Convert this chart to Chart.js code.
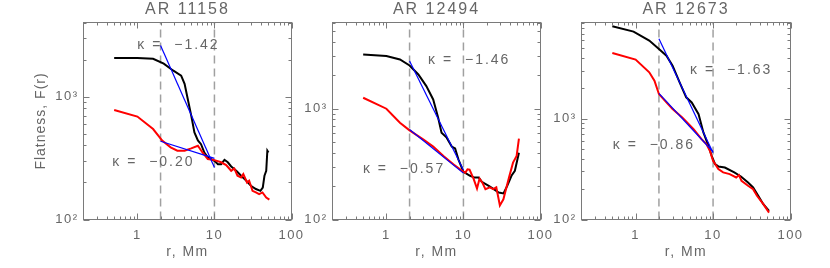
<!DOCTYPE html>
<html>
<head>
<meta charset="utf-8">
<script src="https://cdn.jsdelivr.net/npm/chart.js@4.4.0/dist/chart.umd.min.js"></script>
<style>
  html, body { margin: 0; padding: 0; background: #fff; }
  #wrap { position: relative; width: 830px; height: 268px; overflow: hidden; }
  canvas { position: absolute; top: 0; left: 0; }
</style>
</head>
<body>
<div id="wrap">
  <canvas id="c1" width="830" height="268"></canvas>
  <canvas id="c2" width="830" height="268"></canvas>
  <canvas id="c3" width="830" height="268"></canvas>
</div>
<script>
// ---- data ----
const fitR = [2, 10];
const dashR = [2, 10];

// AR 11158
const r1Black = [0.5, 1.0, 1.6, 2.2, 2.9, 3.7, 4.1, 4.5, 5.0, 5.5, 6.1, 6.7, 7.4, 8.2, 10, 11.1, 12.2, 13.5, 14.9, 16.5, 19.2, 22.2, 25.8, 29.7, 34.5, 39.5, 42.4, 44.6, 47, 48.6, 50.3];
const f1Black = [2060, 2060, 2030, 1850, 1630, 1480, 1270, 960, 700, 510, 440, 410, 350, 320, 300, 282, 282, 306, 292, 270, 249, 227, 207, 188, 177, 171, 182, 227, 249, 363, 351];
const r1Red = [0.5, 1.0, 1.6, 2.1, 2.7, 3.3, 4.1, 5.0, 6.1, 7.0, 8.2, 10, 12.2, 14.2, 16.5, 18.1, 19.9, 22.2, 23.7, 26.5, 28.2, 31.2, 34.5, 38, 42, 47, 51.6];
const f1Red = [778, 687, 544, 438, 386, 363, 363, 379, 398, 351, 310, 304, 292, 277, 249, 260, 227, 220, 234, 200, 207, 171, 166, 161, 166, 151, 145];
const fit1Steep = [2600, 265];
const fit1Flat = [433, 314];

// AR 12494
const r2Black = [0.5, 1.0, 1.5, 2.0, 2.6, 3.3, 4.05, 4.7, 5.2, 6.06, 7.05, 7.8, 8.6, 10, 12.2, 13.9, 15.8, 17.3, 21.3, 24.2, 28.7, 33.1, 37, 42, 46.5, 52.5];
const f2Black = [3085, 2985, 2780, 2455, 2036, 1600, 1213, 830, 608, 548, 455, 437, 349, 269, 248, 239, 239, 219, 201, 190, 175, 172, 201, 248, 275, 401];
const r2Red = [0.5, 1.0, 1.5, 2.0, 3.0, 4.05, 5.5, 7.4, 9.6, 10.6, 11.3, 12, 13.6, 15, 16.2, 17.6, 19.3, 22, 24.3, 26.7, 29.7, 33, 39, 44, 49, 52.5];
const f2Red = [1256, 1000, 748, 638, 529, 455, 375, 315, 275, 265, 284, 282, 231, 190, 234, 215, 188, 195, 188, 195, 134, 152, 239, 326, 375, 537];
const fit2Steep = [2700, 280];
const fit2Flat = [650, 262];

// AR 12673
const r3Black = [0.5, 0.94, 1.5, 2.0, 2.5, 3.0, 3.7, 4.5, 5.3, 6.5, 7.5, 8.7, 9.6, 10.6, 11.7, 14.2, 18.8, 22.9, 28.3, 32.9, 38.3, 44.6, 52.8];
const f3Black = [8250, 7310, 5950, 4910, 4220, 3360, 2290, 1630, 1450, 1110, 730, 540, 429, 354, 336, 328, 293, 267, 233, 208, 172, 142, 122];
const r3Red = [0.5, 1.0, 1.5, 1.75, 2.0, 2.5, 3.0, 4.0, 5.6, 7.1, 8.2, 9.1, 10, 11.7, 13.5, 16.4, 19.9, 21.6, 23.3, 28.3, 32.9, 36.9, 44.6, 52.8];
const f3Red = [4480, 3855, 2885, 2385, 1755, 1450, 1245, 1030, 788, 627, 560, 481, 383, 316, 293, 282, 261, 276, 242, 216, 200, 172, 142, 117];
const fit3Steep = [6200, 460];
const fit3Flat = [1780, 470];

// ---- axes ----
const xMajor = [1, 10, 100];
const xMinor = [0.3, 0.4, 0.5, 0.6, 0.7, 0.8, 0.9, 2, 3, 4, 5, 6, 7, 8, 9, 20, 30, 40, 50, 60, 70, 80, 90];
const xLabels = { 1: '1', 10: '10', 100: '100' };
const yMajor = [100, 1000];
const yMinor = [200, 300, 400, 500, 600, 700, 800, 900, 2000, 3000, 4000, 5000, 6000, 7000, 8000, 9000];
const yLabels = { 100: '10\u00B2', 1000: '10\u00B3' };

const TEXT = '#666666';
const AXIS = '#7a7a7a';
const FONT = '"Liberation Sans", Arial, sans-serif';

const pts = (xs, ys) => xs.map((x, i) => ({ x, y: ys[i] }));

const framePlugin = {
    id: 'frame',
    beforeDraw: (chart) => {
        chart.ctx.letterSpacing = '1.5px';
    },
    afterDatasetsDraw: (chart, args, opts) => {
        const { ctx, chartArea: a, scales: { x, y } } = chart;
        ctx.save();
        ctx.strokeStyle = AXIS;
        ctx.lineWidth = 1;
        ctx.strokeRect(a.left, a.top, a.right - a.left, a.bottom - a.top);

        // inward ticks on all four sides
        ctx.beginPath();
        x.ticks.forEach(t => {
            const px = Math.round(x.getPixelForValue(t.value)) + 0.5;
            const len = xMajor.includes(t.value) ? 6 : 3;
            ctx.moveTo(px, a.bottom); ctx.lineTo(px, a.bottom - len);
            ctx.moveTo(px, a.top); ctx.lineTo(px, a.top + len);
        });
        y.ticks.forEach(t => {
            const py = Math.round(y.getPixelForValue(t.value)) + 0.5;
            const len = yMajor.includes(t.value) ? 6 : 3;
            ctx.moveTo(a.left, py); ctx.lineTo(a.left + len, py);
            ctx.moveTo(a.right, py); ctx.lineTo(a.right - len, py);
        });
        ctx.stroke();

        ctx.fillStyle = TEXT;
        const cx = (a.left + a.right) / 2;

        // panel title
        ctx.letterSpacing = '2px';
        ctx.font = '16px ' + FONT;
        ctx.textAlign = 'center';
        ctx.textBaseline = 'middle';
        ctx.fillText(opts.title, cx, 10);

        // axis titles
        ctx.letterSpacing = '1.5px';
        ctx.font = '14px ' + FONT;
        ctx.fillText('r, Mm', cx, 252);
        if (opts.yTitle) {
            ctx.save();
            ctx.translate(41, (a.top + a.bottom) / 2);
            ctx.rotate(-Math.PI / 2);
            ctx.letterSpacing = '1px';
            ctx.fillText(opts.yTitle, 0, 0);
            ctx.restore();
        }

        // slope annotations
        ctx.letterSpacing = '2px';
        ctx.font = '14px ' + FONT;
        ctx.textAlign = 'left';
        opts.notes.forEach(n => {
            ctx.fillText(n.text, x.getPixelForValue(n.r), y.getPixelForValue(n.f));
        });
        ctx.restore();
    }
};

function makePanel(id, p) {
    const yTicks = [...yMajor, ...yMinor].filter(v => v >= p.yMin && v <= p.yMax).sort((a, b) => a - b);
    const xTicks = [...xMajor, ...xMinor].sort((a, b) => a - b);
    const line = (data, color, width, extra) => Object.assign({
        data, borderColor: color, borderWidth: width, pointRadius: 0, tension: 0, fill: false
    }, extra || {});
    const dash = (r) => line([{ x: r, y: p.yMin }, { x: r, y: p.yMax }], '#a0a0a0', 1.5, { borderDash: [8, 5] });

    return new Chart(document.getElementById(id), {
        type: 'line',
        data: {
            datasets: [
                line(pts(fitR, p.fitSteep), '#0000ff', 1.2),
                line(pts(fitR, p.fitFlat), '#0000ff', 1.2),
                line(pts(p.rRed, p.fRed), '#ff0000', 2),
                line(pts(p.rBlack, p.fBlack), '#000000', 2),
                dash(dashR[0]),
                dash(dashR[1])
            ]
        },
        options: {
            responsive: false,
            animation: false,
            events: [],
            layout: { padding: { top: 22.5, right: 830 - p.right, bottom: 0, left: 0 } },
            plugins: {
                legend: { display: false },
                tooltip: { enabled: false },
                frame: { title: p.title, yTitle: p.yTitle, notes: p.notes }
            },
            scales: {
                x: {
                    type: 'logarithmic', min: 0.2, max: 100,
                    grid: { display: false, drawTicks: false },
                    border: { display: false },
                    afterBuildTicks: (s) => { s.ticks = xTicks.map(v => ({ value: v })); },
                    afterFit: (s) => { s.height = 48.5; s.paddingLeft = 0; s.paddingRight = 0; },
                    ticks: {
                        autoSkip: false, maxRotation: 0, minRotation: 0, padding: 8,
                        color: TEXT, font: { family: FONT, size: 13 },
                        callback: (v) => xLabels[v] || ''
                    }
                },
                y: {
                    type: 'logarithmic', min: p.yMin, max: p.yMax,
                    grid: { display: false, drawTicks: false },
                    border: { display: false },
                    afterBuildTicks: (s) => { s.ticks = yTicks.map(v => ({ value: v })); },
                    afterFit: (s) => { s.width = p.left; s.paddingTop = 0; s.paddingBottom = 0; },
                    ticks: {
                        autoSkip: false, padding: 5,
                        color: TEXT, font: { family: FONT, size: 13 },
                        callback: (v) => yLabels[v] || ''
                    }
                }
            }
        },
        plugins: [framePlugin]
    });
}

makePanel('c1', {
    title: 'AR 11158', yTitle: 'Flatness, F(r)',
    yMin: 100, yMax: 4000, left: 83.5, right: 291.5,
    rBlack: r1Black, fBlack: f1Black, rRed: r1Red, fRed: f1Red,
    fitSteep: fit1Steep, fitFlat: fit1Flat,
    notes: [{ text: '\u03BA =  \u22121.42', r: 1.0, f: 2640 }, { text: '\u03BA =  \u22120.20', r: 0.473, f: 291 }]
});
makePanel('c2', {
    title: 'AR 12494',
    yMin: 100, yMax: 6000, left: 332.5, right: 540.5,
    rBlack: r2Black, fBlack: f2Black, rRed: r2Red, fRed: f2Red,
    fitSteep: fit2Steep, fitFlat: fit2Flat,
    notes: [{ text: '\u03BA =  \u22121.46', r: 3.48, f: 2730 }, { text: '\u03BA =  \u22120.57', r: 0.496, f: 283 }]
});
makePanel('c3', {
    title: 'AR 12673',
    yMin: 100, yMax: 9000, left: 581.5, right: 790.5,
    rBlack: r3Black, fBlack: f3Black, rRed: r3Red, fRed: f3Red,
    fitSteep: fit3Steep, fitFlat: fit3Flat,
    notes: [{ text: '\u03BA =  \u22121.63', r: 5.05, f: 3050 }, { text: '\u03BA =  \u22120.86', r: 0.508, f: 543 }]
});
</script>
</body>
</html>
